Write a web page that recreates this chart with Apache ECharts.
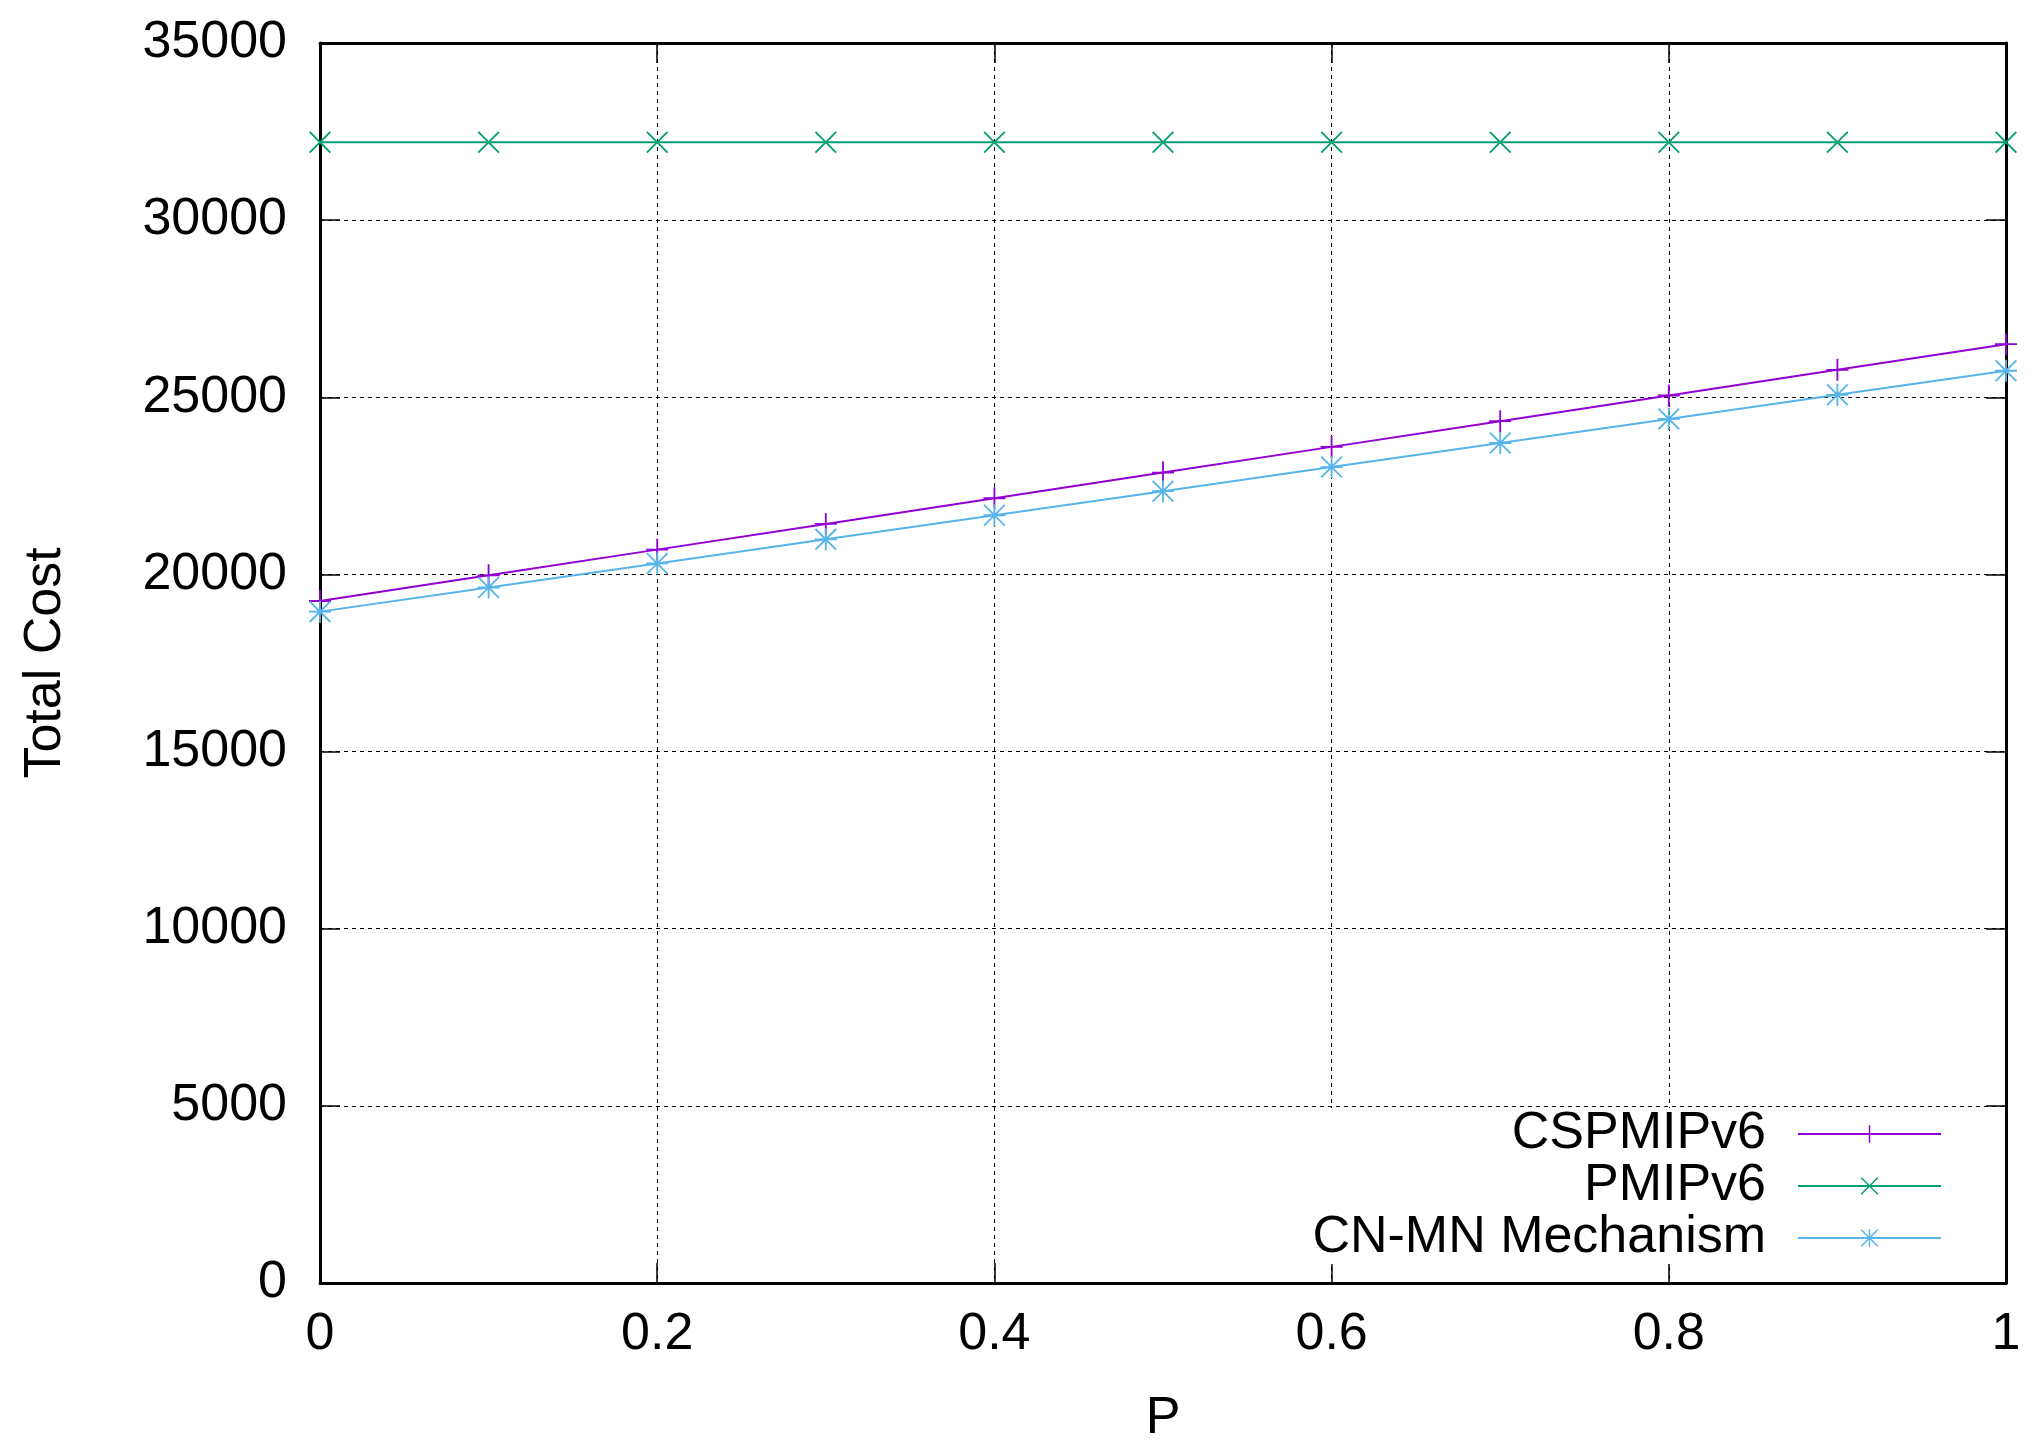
<!DOCTYPE html>
<html>
<head>
<meta charset="utf-8">
<script src="https://cdn.jsdelivr.net/npm/echarts@6/dist/echarts.min.js"></script>
<style>
html,body{margin:0;padding:0;background:#fff;}
#chart{width:2040px;height:1451px;}
</style>
</head>
<body>
<div id="chart"></div>
<script>
// Data
const pValues = [0, 0.1, 0.2, 0.3, 0.4, 0.5, 0.6, 0.7, 0.8, 0.9, 1];
const cspmipv6 = [19250, 19975, 20700, 21425, 22150, 22875, 23600, 24325, 25050, 25775, 26500];
const pmipv6 = [32200, 32200, 32200, 32200, 32200, 32200, 32200, 32200, 32200, 32200, 32200];
const cnmn = [18950, 19630, 20310, 20990, 21670, 22350, 23030, 23710, 24390, 25070, 25750];
const seriesNames = ['CSPMIPv6', 'PMIPv6', 'CN-MN Mechanism'];

const FONT = 'Liberation Sans, Arial, Helvetica, sans-serif';
const PLUS = 'path://M11,0H13V24H11Z M0,11H24V13H0Z';
const CROSS = 'path://M0,1.4L1.4,0L24,22.6L22.6,24Z M22.6,0L24,1.4L1.4,24L0,22.6Z';
const STAR = 'path://M11,0H13V24H11Z M0,11H24V13H0Z M0,1.4L1.4,0L24,22.6L22.6,24Z M22.6,0L24,1.4L1.4,24L0,22.6Z';

function pairs(ys) { return pValues.map((x, i) => [x, ys[i]]); }

function mkSeries(name, ys, color, symbol) {
  return {
    name: name,
    type: 'line',
    data: pairs(ys),
    symbol: symbol,
    symbolSize: 22,
    showAllSymbol: true,
    clip: false,
    color: color,
    lineStyle: { color: color, width: 2 },
    itemStyle: { color: color, borderWidth: 0 },
    emphasis: { disabled: true },
    animation: false,
    z: 3
  };
}

const chart = echarts.init(document.getElementById('chart'), null, { renderer: 'canvas' });
const axisLine = { show: true, onZero: false, lineStyle: { color: '#000', width: 3 } };
const tick = { show: true, inside: true, length: 20, lineStyle: { color: '#000', width: 1.5 } };

chart.setOption({
  backgroundColor: '#fff',
  animation: false,
  grid: { left: 320, right: 34, top: 43, bottom: 168, containLabel: false },
  xAxis: [
    {
      type: 'value', min: 0, max: 1, interval: 0.2, position: 'bottom',
      name: 'P', nameLocation: 'middle', nameGap: 110,
      nameTextStyle: { fontSize: 52, color: '#000', fontFamily: FONT },
      axisLine: axisLine, axisTick: tick,
      axisLabel: { fontSize: 52, color: '#000', fontFamily: FONT, margin: 26 },
      splitLine: { show: true, lineStyle: { color: '#000', width: 1, type: [4, 4] } }
    },
    {
      type: 'value', min: 0, max: 1, interval: 0.2, position: 'top',
      axisLine: axisLine, axisTick: tick, axisLabel: { show: false }, splitLine: { show: false }
    }
  ],
  yAxis: [
    {
      type: 'value', min: 0, max: 35000, interval: 5000, position: 'left',
      name: 'Total Cost', nameLocation: 'middle', nameGap: 248,
      nameTextStyle: { fontSize: 52, color: '#000', fontFamily: FONT },
      axisLine: axisLine, axisTick: tick,
      axisLabel: { fontSize: 52, color: '#000', fontFamily: FONT, margin: 33, formatter: function (v) { return String(v); } },
      splitLine: { show: true, lineStyle: { color: '#000', width: 1, type: [4, 4] } }
    },
    {
      type: 'value', min: 0, max: 35000, interval: 5000, position: 'right',
      axisLine: axisLine, axisTick: tick, axisLabel: { show: false }, splitLine: { show: false }
    }
  ],
  legend: {
    orient: 'vertical',
    align: 'right',
    right: 74,
    top: 1108,
    padding: [0, 24, 0, 10],
    backgroundColor: '#fff',
    itemWidth: 143,
    itemHeight: 22,
    itemGap: 0,
    selectedMode: false,
    textStyle: { fontSize: 52, color: '#000', fontFamily: FONT, lineHeight: 52, padding: [0, 27, 0, 0] },
    data: seriesNames
  },
  series: [
    mkSeries(seriesNames[0], cspmipv6, '#9400D3', PLUS),
    mkSeries(seriesNames[1], pmipv6, '#009E73', CROSS),
    mkSeries(seriesNames[2], cnmn, '#56B4E9', STAR)
  ]
});
</script>
</body>
</html>
